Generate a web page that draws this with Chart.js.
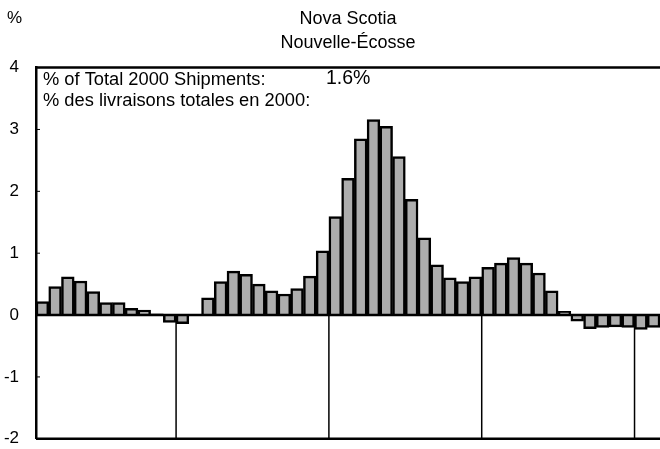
<!DOCTYPE html>
<html><head><meta charset="utf-8">
<script src="https://cdn.jsdelivr.net/npm/chart.js@4/dist/chart.umd.min.js"></script>
<style>html,body{margin:0;padding:0;background:#fff}#wrap{width:660px;height:449px;position:relative}</style>
</head><body><div id="wrap"><canvas id="c"></canvas></div>
<script>
// Monthly categories (49 months, first year-separator before index 11)
const categories = [
  'Feb','Mar','Apr','May','Jun','Jul','Aug','Sep','Oct','Nov','Dec',
  'Jan','Feb','Mar','Apr','May','Jun','Jul','Aug','Sep','Oct','Nov','Dec',
  'Jan','Feb','Mar','Apr','May','Jun','Jul','Aug','Sep','Oct','Nov','Dec',
  'Jan','Feb','Mar','Apr','May','Jun','Jul','Aug','Sep','Oct','Nov','Dec',
  'Jan','Feb'
];
// % values
const values = [
  0.22,0.46,0.62,0.55,0.38,0.20,0.20,0.11,0.08,0.02,
  -0.12,-0.14,0.01,0.28,0.54,0.71,0.66,0.50,0.39,0.34,
  0.43,0.63,1.04,1.59,2.21,2.85,3.16,3.05,2.56,1.87,
  1.25,0.81,0.60,0.54,0.62,0.77,0.84,0.93,0.84,0.68,
  0.39,0.06,-0.10,-0.22,-0.20,-0.19,-0.20,-0.23,-0.20
];
// category indices where a new year begins (separator lines)
const yearStarts = [11, 23, 35, 47];
const yTicks = [-2,-1,0,1,2,3,4];
const titleLines = ['Nova Scotia','Nouvelle-Écosse'];
const unitLabel = '%';
const noteLines = ['% of Total 2000 Shipments:','% des livraisons totales en 2000:'];
const shareValue = '1.6%';

const FONT = "'Liberation Sans', Arial, Helvetica, sans-serif";

const framePlugin = {
  id: 'frame',
  beforeDatasetsDraw(chart){
    const {ctx, scales:{x,y}} = chart;
    ctx.save();
    ctx.strokeStyle = '#000'; ctx.lineWidth = 1.5;
    const y0 = y.getPixelForValue(0), yb = y.getPixelForValue(-2);
    yearStarts.forEach(i => {
      const px = (x.getPixelForValue(i-1) + x.getPixelForValue(i)) / 2;
      ctx.beginPath(); ctx.moveTo(px, y0); ctx.lineTo(px, yb); ctx.stroke();
    });
    ctx.restore();
  },
  afterDatasetsDraw(chart){
    const {ctx, chartArea:a, scales:{y}} = chart;
    ctx.save();
    ctx.strokeStyle = '#000';
    const y0 = y.getPixelForValue(0);
    ctx.lineWidth = 2.5;
    ctx.beginPath(); ctx.moveTo(a.left, y0); ctx.lineTo(a.right, y0); ctx.stroke();
    ctx.beginPath(); ctx.moveTo(a.left, a.top); ctx.lineTo(a.right, a.top); ctx.stroke();
    ctx.beginPath(); ctx.moveTo(a.left, a.bottom); ctx.lineTo(a.right, a.bottom); ctx.stroke();
    ctx.lineWidth = 1;
    yTicks.forEach(v => {
      const py = y.getPixelForValue(v);
      ctx.beginPath(); ctx.moveTo(a.left, py); ctx.lineTo(a.left + 4, py); ctx.stroke();
    });
    ctx.fillStyle = '#000';
    ctx.textBaseline = 'middle';
    ctx.textAlign = 'left';
    ctx.font = '17px ' + FONT;
    ctx.fillText(unitLabel, 7, 18);
    ctx.font = '18.3px ' + FONT;
    const ty = y.getPixelForValue(4);
    ctx.fillText(noteLines[0], a.left + 7, ty + 12);
    ctx.fillText(noteLines[1], a.left + 7, ty + 33);
    ctx.font = '19.5px ' + FONT;
    ctx.fillText(shareValue, a.left + 290, ty + 11);
    ctx.restore();
  }
};

new Chart(document.getElementById('c'), {
  type: 'bar',
  data: {
    labels: categories,
    datasets: [{
      data: values,
      backgroundColor: '#adadad',
      borderColor: '#000',
      borderWidth: 2.5,
      borderSkipped: 'start',
      categoryPercentage: 1,
      barPercentage: 1
    }]
  },
  options: {
    responsive: true,
    maintainAspectRatio: false,
    animation: false,
    layout: { padding: { top: 7, left: 0, right: 0, bottom: 0 } },
    plugins: {
      legend: { display: false },
      tooltip: { enabled: false },
      title: {
        display: true,
        text: titleLines,
        fullSize: false,
        color: '#000',
        font: { family: FONT, size: 18, weight: 'normal', lineHeight: 1.35 },
        padding: { top: 0, bottom: 12 }
      }
    },
    scales: {
      x: { display: false },
      y: {
        min: -2, max: 4,
        afterFit(s){ s.width = 36; },
        grid: { display: true, drawOnChartArea: false, drawTicks: true, tickLength: 17, color: 'rgba(0,0,0,0)' },
        border: { display: true, color: '#000', width: 2.5 },
        ticks: {
          stepSize: 1,
          padding: 0,
          color: '#000',
          font: { family: FONT, size: 17 }
        }
      }
    }
  },
  plugins: [framePlugin]
});
</script>
</body></html>
